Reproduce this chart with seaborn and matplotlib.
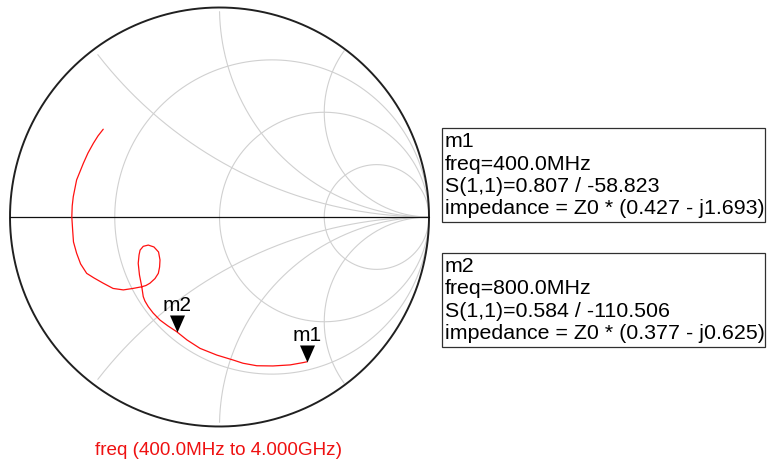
import numpy as np
import pandas as pd
import matplotlib
matplotlib.use("Agg")
import matplotlib.pyplot as plt
from matplotlib.patches import Rectangle
import seaborn as sns

# S(1,1) trace, 400 MHz -> 4 GHz (reflection coefficient, re / im)
s11_re = [0.418, 0.399, 0.337, 0.255, 0.178, 0.112, 0.066, -0.013, -0.093, -0.155,
          -0.205, -0.246, -0.284, -0.317, -0.340, -0.356, -0.364, -0.371, -0.382, -0.388,
          -0.384, -0.379, -0.364, -0.340, -0.313, -0.291, -0.284, -0.286, -0.292, -0.308,
          -0.332, -0.351, -0.371, -0.413, -0.459, -0.508, -0.555, -0.599, -0.634, -0.663,
          -0.682, -0.697, -0.701, -0.705, -0.703, -0.698, -0.682, -0.650, -0.628, -0.602,
          -0.580, -0.555]
s11_im = [-0.691, -0.695, -0.706, -0.711, -0.710, -0.698, -0.683, -0.659, -0.627, -0.587,
          -0.547, -0.520, -0.492, -0.458, -0.428, -0.401, -0.380, -0.333, -0.277, -0.221,
          -0.181, -0.158, -0.140, -0.134, -0.143, -0.167, -0.205, -0.239, -0.269, -0.294,
          -0.316, -0.327, -0.333, -0.341, -0.348, -0.341, -0.316, -0.291, -0.269, -0.224,
          -0.173, -0.119, -0.062, 0.001, 0.053, 0.097, 0.177, 0.256, 0.305, 0.352,
          0.387, 0.419]

# markers
marker_names = ["m1", "m2"]
marker_freq = ["400.0MHz", "800.0MHz"]
marker_mag = [0.807, 0.584]
marker_ang = [-58.823, -110.506]
marker_z = ["0.427 - j1.693", "0.377 - j0.625"]

# Smith chart grid
r_circles = [1 / 3, 1, 3]
x_arcs = [0.5, 1, 2]

sweep_label = "freq (400.0MHz to 4.000GHz)"

sns.set_theme(style="white")
plt.rcParams['font.family'] = ['Liberation Sans', 'DejaVu Sans']

W, H = 772, 466
fig = plt.figure(figsize=(W / 100, H / 100), dpi=100)
ax = fig.add_axes([0, 1 - 440 / H, 440 / W, 440 / H])
cx, cy, R = 219.5, 217.0, 209.5
ax.set_xlim((0 - cx) / R, (440 - cx) / R)
ax.set_ylim((cy - 440) / R, cy / R)
ax.axis('off')

grid_col = "#d0d0d0"
t = np.linspace(0, 2 * np.pi, 400)
for r in r_circles:
    c, rad = r / (1 + r), 1 / (1 + r)
    ax.plot(c + rad * np.cos(t), rad * np.sin(t), color=grid_col, lw=0.8, zorder=1)
rr = np.concatenate([np.linspace(0.02, 5, 300), np.logspace(np.log10(5), 4, 200)])
for x in x_arcs:
    for sgn in (1, -1):
        z = rr + 1j * sgn * x
        g = (z - 1) / (z + 1)
        ax.plot(g.real, g.imag, color=grid_col, lw=0.8, zorder=1)

ax.plot(np.cos(t), np.sin(t), color="#202020", lw=1.4, zorder=2)
ax.plot([-1, 1], [0, 0], color="#101010", lw=0.9, zorder=2)

df = pd.DataFrame({"re": s11_re, "im": s11_im})
sns.lineplot(data=df, x="re", y="im", sort=False, estimator=None,
             color="#ff1010", lw=0.9, ax=ax, zorder=3)

mk = np.array(marker_mag) * np.exp(1j * np.deg2rad(marker_ang))
tri = [(0, 0), (-7.5, 17), (7.5, 17)]
ax.scatter(mk.real, mk.imag, marker=tri, s=24.5 ** 2, color="black",
           linewidths=0, zorder=4)
for name, p in zip(marker_names, mk):
    ax.annotate(name, (p.real, p.imag), xytext=(0, 14.6), textcoords="offset points",
                ha="center", va="baseline", fontsize=15, color="black", zorder=5)


def fx(px):
    return px / W


def fy(py):
    return 1 - py / H


box_tops = [128.3, 253.3]
for i, name in enumerate(marker_names):
    top = box_tops[i]
    lines = [name,
             f"freq={marker_freq[i]}",
             f"S(1,1)={marker_mag[i]:.3f} / {marker_ang[i]:.3f}",
             f"impedance = Z0 * ({marker_z[i]})"]
    for k, line in enumerate(lines):
        fig.text(fx(444.5), fy(top + 19 + 22.2 * k), line, fontsize=15.4,
                 va="baseline", ha="left", color="black")
    fig.add_artist(Rectangle((fx(441.7), fy(top + 94)), (765 - 441.7) / W, 94 / H,
                             transform=fig.transFigure, fill=False,
                             ec="#303030", lw=0.9))

fig.text(fx(95), fy(455), sweep_label, fontsize=13.6, color="#ee1111",
         va="baseline", ha="left")

fig.savefig("out.png", dpi=100)
